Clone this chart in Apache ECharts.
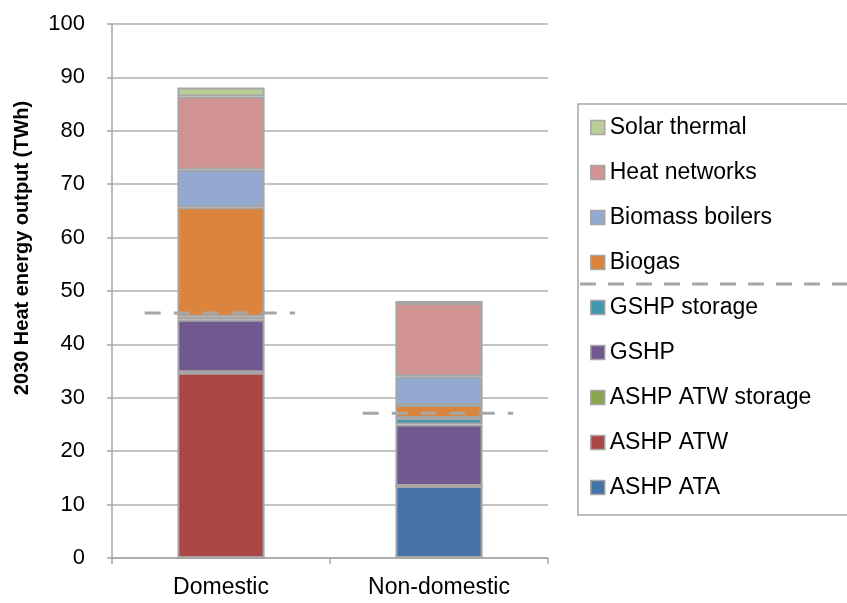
<!DOCTYPE html>
<html>
<head>
<meta charset="utf-8">
<script src="https://cdn.jsdelivr.net/npm/echarts@6/dist/echarts.min.js"></script>
<style>html,body{margin:0;padding:0;background:#fff;}#c{width:847px;height:603px;}</style>
</head>
<body>
<div id="c"></div>
<script>
const categories = ['Domestic', 'Non-domestic'];
const seriesNames = ['ASHP ATA', 'ASHP ATW', 'ASHP ATW storage', 'GSHP', 'GSHP storage', 'Biogas', 'Biomass boilers', 'Heat networks', 'Solar thermal'];
const ashpAta = [0, 13.5];
const ashpAtw = [34.7, 0];
const ashpAtwStorage = [0.1, 0];
const gshp = [9.8, 11.5];
const gshpStorage = [0.6, 1.2];
const biogas = [20.5, 2.45];
const biomass = [7.0, 5.4];
const heatNetworks = [13.7, 13.7];
const solarThermal = [1.7, 0.4];
const colors = ['#4572A7', '#AA4643', '#89A54E', '#71588F', '#4198AF', '#DB843D', '#93A9CF', '#D19392', '#B9CD96'];
// dashed reference levels per category (TWh), span in category units
const refLevels = [45.9, 27.1];
const refSpan = [[0.15, 0.84], [1.15, 1.84]];
const yTicks = [0, 10, 20, 30, 40, 50, 60, 70, 80, 90, 100];

const values = [ashpAta, ashpAtw, ashpAtwStorage, gshp, gshpStorage, biogas, biomass, heatNetworks, solarThermal];

const chart = echarts.init(document.getElementById('c'), null, {renderer: 'canvas'});
const font = 'Liberation Sans, Arial, sans-serif';

const barSeries = seriesNames.map((n, i) => ({
  name: n,
  type: 'bar',
  stack: 'total',
  barWidth: '40%',
  data: values[i],
  itemStyle: {color: colors[i], borderColor: '#A6A6A6', borderWidth: 2},
  emphasis: {disabled: true}
}));

const refSeries = refLevels.map((v, i) => ({
  name: 'ref' + i,
  type: 'line',
  xAxisIndex: 1,
  data: [[refSpan[i][0], v], [refSpan[i][1], v]],
  symbol: 'none',
  z: 5,
  lineStyle: {color: '#A6A6A6', width: 3, type: [16, 13]},
  silent: true
}));

chart.setOption({
  animation: false,
  backgroundColor: '#fff',
  grid: {left: 112, right: 299, top: 24, bottom: 45, containLabel: false, outerBoundsMode: 'none'},
  xAxis: [{
    type: 'category',
    data: categories,
    axisLine: {lineStyle: {color: '#A6A6A6', width: 1.5}},
    axisTick: {show: true, length: 6, lineStyle: {color: '#A6A6A6', width: 1.5}},
    axisLabel: {color: '#000', fontSize: 23, fontFamily: font, margin: 18}
  }, {
    type: 'value', min: 0, max: 2, show: false
  }],
  yAxis: {
    type: 'value',
    min: yTicks[0], max: yTicks[yTicks.length - 1], interval: 10,
    name: '2030 Heat energy output (TWh)',
    nameLocation: 'middle',
    nameGap: 80,
    nameTextStyle: {color: '#000', fontSize: 20, fontWeight: 'bold', fontFamily: font, padding: [0, 0, 0, 86]},
    axisLine: {show: true, lineStyle: {color: '#A6A6A6', width: 1.5}},
    axisTick: {show: true, length: 5, lineStyle: {color: '#A6A6A6', width: 1.5}},
    axisLabel: {color: '#000', fontSize: 22, fontFamily: font, margin: 27},
    splitLine: {lineStyle: {color: '#B0B0B0', width: 1.5}}
  },
  legend: {
    orient: 'vertical',
    left: 578, top: 104,
    data: seriesNames.slice().reverse(),
    icon: 'rect',
    itemWidth: 14, itemHeight: 14, itemGap: 22,
    padding: [12, 45, 16, 12],
    borderColor: '#A6A6A6', borderWidth: 1.5,
    selectedMode: false,
    itemStyle: {borderColor: '#A6A6A6', borderWidth: 1.5},
    textStyle: {color: '#000', fontSize: 23, lineHeight: 22, fontFamily: font}
  },
  graphic: [{
    type: 'line',
    shape: {x1: 580, y1: 284, x2: 847, y2: 284},
    style: {stroke: '#A6A6A6', lineWidth: 3, lineDash: [16, 12]},
    z: 100
  }],
  series: barSeries.concat(refSeries)
});
</script>
</body>
</html>
